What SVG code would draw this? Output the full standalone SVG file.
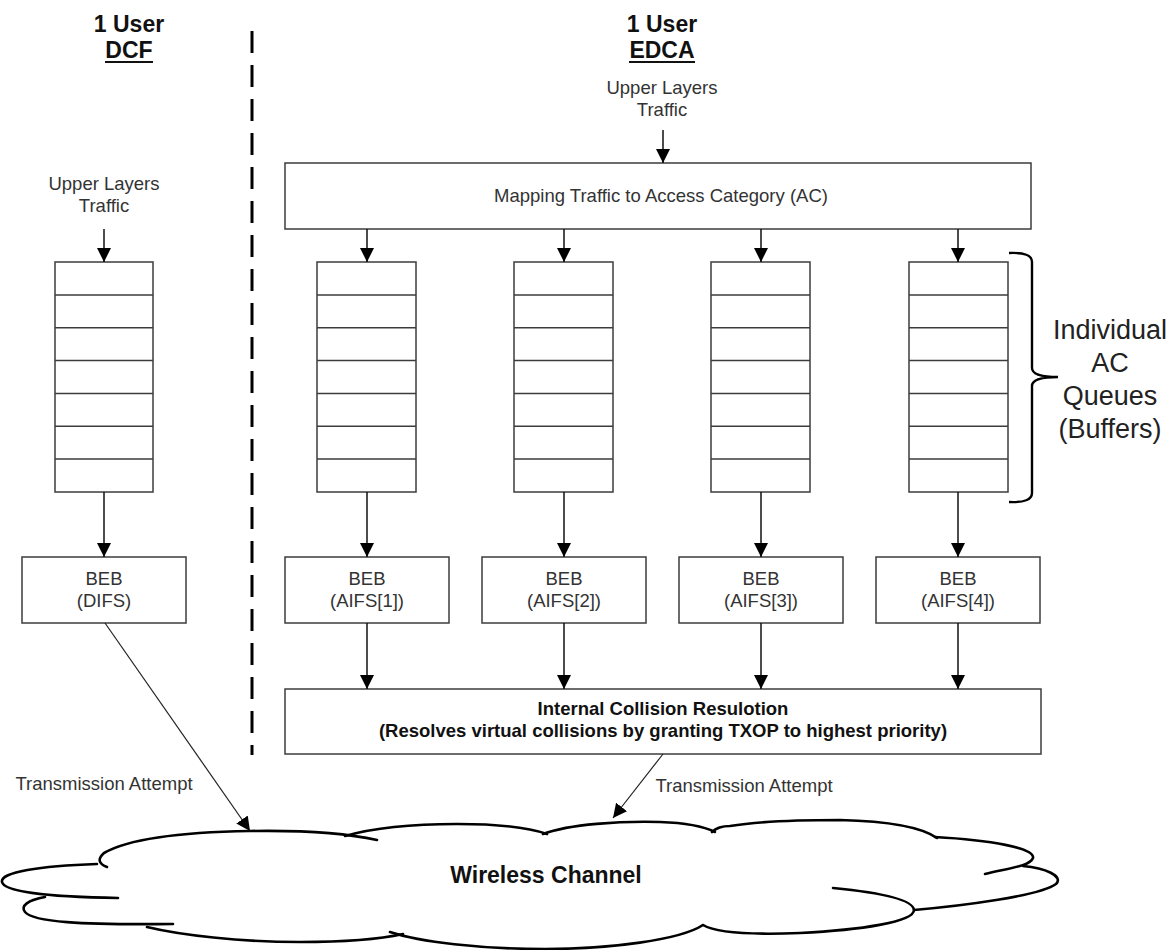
<svg xmlns="http://www.w3.org/2000/svg" width="1168" height="950" viewBox="0 0 1168 950">
  <style>
    .box { fill: #ffffff; stroke: #3c3c3c; stroke-width: 1.5; }
    .row { stroke: #3c3c3c; stroke-width: 1.5; fill: none; }
    .txt { font-family: "Liberation Sans", Arial, sans-serif; font-size: 18.5px; fill: #333333; text-anchor: middle; }
    .bold { font-family: "Liberation Sans", Arial, sans-serif; font-weight: bold; fill: #111111; text-anchor: middle; }
    .title { font-size: 23px; }
    .side { font-family: "Liberation Sans", Arial, sans-serif; font-size: 27px; fill: #222222; text-anchor: middle; }
    .arrow { stroke: #111111; stroke-width: 1.5; fill: none; marker-end: url(#head); }
    .thin { stroke: #222222; stroke-width: 1.2; fill: none; marker-end: url(#head); }
    .cloud { stroke: #000000; stroke-width: 2.6; fill: none; stroke-linecap: round; }
  </style>
  <defs>
    <marker id="head" markerUnits="userSpaceOnUse" markerWidth="14" markerHeight="14" viewBox="0 0 12 12" refX="12" refY="6" orient="auto">
      <path d="M0,0 L12,6 L0,12 Z" fill="#000000"/>
    </marker>
  </defs>
  <rect width="1168" height="950" fill="#ffffff"/>

  <!-- Column headings -->
  <g id="heading-dcf">
    <text class="bold title" x="129" y="32">1 User</text>
    <text class="bold title" x="129" y="58">DCF</text>
    <line x1="105" y1="62" x2="153" y2="62" stroke="#111111" stroke-width="2"/>
  </g>
  <g id="heading-edca">
    <text class="bold title" x="662" y="32">1 User</text>
    <text class="bold title" x="662" y="58">EDCA</text>
    <line x1="629" y1="62" x2="695" y2="62" stroke="#111111" stroke-width="2"/>
  </g>

  <!-- Separator between DCF and EDCA -->
  <line id="separator" x1="252" y1="31" x2="252" y2="755" stroke="#000000" stroke-width="3" stroke-dasharray="22 12"/>

  <!-- DCF side -->
  <g id="dcf-source">
    <text class="txt" x="104" y="190">Upper Layers</text>
    <text class="txt" x="104" y="212">Traffic</text>
  </g>
  <g id="dcf-queue">
    <rect class="box" x="55" y="262" width="98" height="230"/>
    <path class="row" d="M55 294.9H153M55 327.7H153M55 360.6H153M55 393.4H153M55 426.3H153M55 459.1H153"/>
  </g>
  <g id="dcf-beb">
    <rect class="box" x="22" y="557" width="164" height="66"/>
    <text class="txt" x="104" y="585">BEB</text>
    <text class="txt" x="104" y="607">(DIFS)</text>
  </g>

  <!-- EDCA side -->
  <g id="edca-source">
    <text class="txt" x="662" y="94">Upper Layers</text>
    <text class="txt" x="662" y="116">Traffic</text>
  </g>
  <g id="ac-mapping">
    <rect class="box" x="285" y="163" width="746" height="66"/>
    <text class="txt" x="661" y="202">Mapping Traffic to Access Category (AC)</text>
  </g>

  <g id="queue-ac1">
    <rect class="box" x="317" y="262" width="99" height="230"/>
    <path class="row" d="M317 294.9H416M317 327.7H416M317 360.6H416M317 393.4H416M317 426.3H416M317 459.1H416"/>
  </g>
  <g id="queue-ac2">
    <rect class="box" x="514" y="262" width="99" height="230"/>
    <path class="row" d="M514 294.9H613M514 327.7H613M514 360.6H613M514 393.4H613M514 426.3H613M514 459.1H613"/>
  </g>
  <g id="queue-ac3">
    <rect class="box" x="711" y="262" width="99" height="230"/>
    <path class="row" d="M711 294.9H810M711 327.7H810M711 360.6H810M711 393.4H810M711 426.3H810M711 459.1H810"/>
  </g>
  <g id="queue-ac4">
    <rect class="box" x="909" y="262" width="99" height="230"/>
    <path class="row" d="M909 294.9H1008M909 327.7H1008M909 360.6H1008M909 393.4H1008M909 426.3H1008M909 459.1H1008"/>
  </g>

  <g id="queues-label">
    <path d="M1009 253 Q1032 252 1032 262 L1032 368 Q1032 377 1058 377 Q1032 377 1032 386 L1032 493 Q1032 503 1009 502" fill="none" stroke="#000000" stroke-width="2.4"/>
    <text class="side" x="1110" y="339">Individual</text>
    <text class="side" x="1110" y="372">AC</text>
    <text class="side" x="1110" y="405">Queues</text>
    <text class="side" x="1110" y="438">(Buffers)</text>
  </g>

  <g id="beb-ac1">
    <rect class="box" x="285" y="557" width="164" height="66"/>
    <text class="txt" x="367" y="585">BEB</text>
    <text class="txt" x="367" y="607">(AIFS[1])</text>
  </g>
  <g id="beb-ac2">
    <rect class="box" x="482" y="557" width="164" height="66"/>
    <text class="txt" x="564" y="585">BEB</text>
    <text class="txt" x="564" y="607">(AIFS[2])</text>
  </g>
  <g id="beb-ac3">
    <rect class="box" x="679" y="557" width="164" height="66"/>
    <text class="txt" x="761" y="585">BEB</text>
    <text class="txt" x="761" y="607">(AIFS[3])</text>
  </g>
  <g id="beb-ac4">
    <rect class="box" x="876" y="557" width="164" height="66"/>
    <text class="txt" x="958" y="585">BEB</text>
    <text class="txt" x="958" y="607">(AIFS[4])</text>
  </g>

  <g id="collision-resolution">
    <rect class="box" x="285" y="689" width="756" height="65"/>
    <text class="bold" font-size="18.5" x="663" y="715">Internal Collision Resulotion</text>
    <text class="bold" font-size="18.5" x="663" y="737">(Resolves virtual collisions by granting TXOP to highest priority)</text>
  </g>

  <!-- Shared medium -->
  <g id="wireless-channel">
    <path class="cloud" d="M107 867 Q94 862 104 853 C130 838 190 832 250 831 C310 830 350 834 377 840"/>
    <path class="cloud" d="M345 836 C380 826 420 824 457 824 C500 824 530 828 547 834"/>
    <path class="cloud" d="M543 834 C570 824 620 821 660 822 C690 823 705 827 715 832"/>
    <path class="cloud" d="M712 832 Q718 826 730 826 C760 821 800 820 840 820 C880 821 920 826 937 838"/>
    <path class="cloud" d="M985 874 C1010 868 1030 866 1033 858 C1035 848 990 840 935 837"/>
    <path class="cloud" d="M914 910 C960 906 1040 896 1056 884 C1064 876 1045 868 1023 866"/>
    <path class="cloud" d="M833 888 C885 893 913 900 914 910 C914 922 860 930 800 933 C750 935 715 932 703 925"/>
    <path class="cloud" d="M390 932 C420 942 480 949 545 949 C610 949 680 940 703 925"/>
    <path class="cloud" d="M147 927 C180 935 240 942 300 942 C350 942 385 938 403 934"/>
    <path class="cloud" d="M45 897 C28 900 20 906 25 912 C33 922 80 925 173 924"/>
    <path class="cloud" d="M97 864 C40 866 0 872 2 882 C4 892 50 897 118 898"/>
    <text class="bold" font-size="23" x="546" y="883">Wireless Channel</text>
  </g>

  <!-- Transmission labels -->
  <g id="labels">
    <text class="txt" x="104" y="790">Transmission Attempt</text>
    <text class="txt" x="744" y="792">Transmission Attempt</text>
  </g>

  <!-- Connectors -->
  <g id="connectors">
    <line class="arrow" x1="104" y1="229" x2="104" y2="262"/>
    <line class="arrow" x1="104" y1="492" x2="104" y2="557"/>
    <line class="thin" x1="105" y1="623" x2="250" y2="831"/>

    <line class="arrow" x1="663" y1="130" x2="663" y2="163"/>

    <line class="arrow" x1="367" y1="229" x2="367" y2="262"/>
    <line class="arrow" x1="564" y1="229" x2="564" y2="262"/>
    <line class="arrow" x1="761" y1="229" x2="761" y2="262"/>
    <line class="arrow" x1="958" y1="229" x2="958" y2="262"/>

    <line class="arrow" x1="367" y1="492" x2="367" y2="557"/>
    <line class="arrow" x1="564" y1="492" x2="564" y2="557"/>
    <line class="arrow" x1="761" y1="492" x2="761" y2="557"/>
    <line class="arrow" x1="958" y1="492" x2="958" y2="557"/>

    <line class="arrow" x1="367" y1="623" x2="367" y2="689"/>
    <line class="arrow" x1="564" y1="623" x2="564" y2="689"/>
    <line class="arrow" x1="761" y1="623" x2="761" y2="689"/>
    <line class="arrow" x1="958" y1="623" x2="958" y2="689"/>

    <line class="thin" x1="663" y1="754" x2="613" y2="818"/>
  </g>
</svg>
